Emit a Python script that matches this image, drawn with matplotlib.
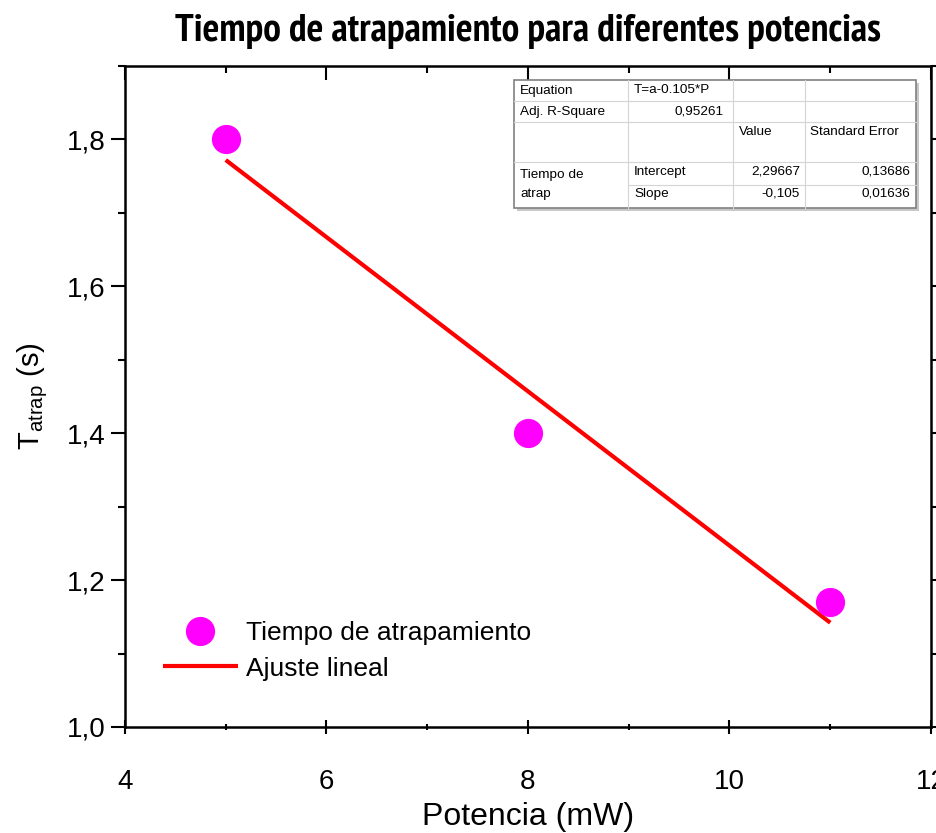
import matplotlib
matplotlib.use("Agg")
import matplotlib.pyplot as plt
from matplotlib.ticker import MultipleLocator, FuncFormatter
from matplotlib.patches import Rectangle
from matplotlib.lines import Line2D
from matplotlib import font_manager
from matplotlib.font_manager import FontProperties

# ---- data ----
potencia = [5, 8, 11]
tiempo = [1.80, 1.40, 1.17]
fit_x = [5, 11]
fit_y = [1.772, 1.142]
x_ticks = [4, 6, 8, 10, 12]
y_ticks = [1.0, 1.2, 1.4, 1.6, 1.8]

title = "Tiempo de atrapamiento para diferentes potencias"
xlabel = "Potencia (mW)"
ylabel = r"T$_{\mathregular{atrap}}$ (s)"
legend_labels = ["Tiempo de atrapamiento", "Ajuste lineal"]

tbl_row1 = ["Equation", "T=a-0.105*P"]
tbl_row2 = ["Adj. R-Square", "0,95261"]
tbl_header = ["Value", "Standard Error"]
tbl_group = ["Tiempo de", "atrap"]
tbl_params = ["Intercept", "Slope"]
tbl_values = ["2,29667", "-0,105"]
tbl_errors = ["0,13686", "0,01636"]

# ---- fonts ----
names = {f.name for f in font_manager.fontManager.ttflist}
base = "Liberation Sans" if "Liberation Sans" in names else "DejaVu Sans"
plt.rcParams["font.family"] = [base, "DejaVu Sans"]
plt.rcParams["mathtext.fontset"] = "custom"
plt.rcParams["mathtext.rm"] = base

# find a condensed bold font for the title
title_fp = None
for f in font_manager.fontManager.ttflist:
    nm = (f.name + " " + f.fname).lower()
    if ("narrow" in nm or "condensed" in nm) and f.weight in ("bold", 700):
        title_fp = FontProperties(fname=f.fname)
        if "narrow" in nm:
            break
if title_fp is None:
    title_fp = FontProperties(family=[base, "DejaVu Sans"], weight="bold")

W, H = 937, 833
fig = plt.figure(figsize=(W / 100, H / 100), dpi=100)
fig.patch.set_facecolor("white")

L, R, B, T = 125, 931, 727, 66
ax = fig.add_axes([L / W, 1 - B / H, (R - L) / W, (B - T) / H])

ax.plot(potencia, tiempo, "o", ls="none", color="#FF00FF", markersize=20,
        label=legend_labels[0], zorder=3)
ax.plot(fit_x, fit_y, "-", color="#FF0000", lw=3, label=legend_labels[1],
        solid_capstyle="butt", zorder=2)

ax.set_xlim(4, 12)
ax.set_ylim(1.0, 1.9)
ax.set_xticks(x_ticks)
ax.set_yticks(y_ticks)
ax.xaxis.set_minor_locator(MultipleLocator(1))
ax.yaxis.set_minor_locator(MultipleLocator(0.1))
ax.yaxis.set_major_formatter(FuncFormatter(lambda v, p: f"{v:.1f}".replace(".", ",")))
ax.xaxis.set_major_formatter(FuncFormatter(lambda v, p: f"{v:g}"))

for s in ax.spines.values():
    s.set_linewidth(1.8)

ax.tick_params(axis="x", which="both", direction="inout", top=True, bottom=True,
               labelsize=20, pad=25, width=1.5)
ax.tick_params(axis="y", which="both", direction="out", left=True, right=True,
               labelsize=20, pad=4, width=1.5)
ax.tick_params(which="major", length=10)
ax.tick_params(which="minor", length=5)
majors = ax.xaxis.get_major_ticks()
for t in majors + ax.xaxis.get_minor_ticks():
    t.tick2line.set_marker(3)  # TICKUP (outward on top)
    t.tick2line.set_markersize(10 if t in majors else 5)

ax.set_xlabel(xlabel, fontsize=23, labelpad=5)
ax.set_ylabel(ylabel, fontsize=21, labelpad=12)

# title, fitted close to the reference width (~742 px)
fs = 29
ttl = fig.text((L + R) / 2 / W, 1 - 41 / H, title, ha="center", va="baseline",
               fontproperties=title_fp, fontsize=fs)
fig.canvas.draw()
w = ttl.get_window_extent().width
ttl.set_fontsize(fs * 742 / w * 0.95)

leg = ax.legend(loc="lower left", bbox_to_anchor=(0.047, 0.07), frameon=False,
                fontsize=19, handlelength=2.85, handletextpad=0.3, labelspacing=0.45,
                borderpad=0, borderaxespad=0, numpoints=1)

# ---- statistics table (pixel layout) ----
def fx(px):
    return px / W

def fy(py):
    return 1 - py / H

cols = [514, 628, 733, 805, 916]
rows = [80, 101, 122, 162, 185, 208]
fig.patches.append(Rectangle((fx(cols[0] + 3), fy(rows[-1] + 3)), fx(cols[-1]) - fx(cols[0]),
                             fy(rows[0]) - fy(rows[-1]), transform=fig.transFigure,
                             facecolor="#c8c8c8", edgecolor="none", zorder=5))
fig.patches.append(Rectangle((fx(cols[0]), fy(rows[-1])), fx(cols[-1]) - fx(cols[0]),
                             fy(rows[0]) - fy(rows[-1]), transform=fig.transFigure,
                             facecolor="white", edgecolor="#808080", lw=1.2, zorder=6))
grid_c = "#d4d4d4"
for c in cols[1:-1]:
    fig.lines.append(Line2D([fx(c), fx(c)], [fy(rows[0]), fy(rows[-1])],
                            transform=fig.transFigure, color=grid_c, lw=0.8, zorder=7))
for r in rows[1:-1]:
    x0 = cols[1] if r == rows[4] else cols[0]
    fig.lines.append(Line2D([fx(x0), fx(cols[-1])], [fy(r), fy(r)],
                            transform=fig.transFigure, color=grid_c, lw=0.8, zorder=7))

tfs = 9.7
def cell(px, py, s, ha="left"):
    fig.text(fx(px), fy(py), s, ha=ha, va="center", fontsize=tfs, zorder=8)

cell(cols[0] + 6, 91, tbl_row1[0])
cell(cols[1] + 6, 90, tbl_row1[1])
cell(cols[0] + 6, 112, tbl_row2[0])
cell(cols[2] - 9, 111, tbl_row2[1], ha="right")
cell(cols[2] + 6, 132, tbl_header[0])
cell(cols[3] + 5, 132, tbl_header[1])
cell(cols[0] + 6, 175, tbl_group[0])
cell(cols[0] + 6, 194, tbl_group[1])
for j, ry in enumerate([172, 194]):
    cell(cols[1] + 6, ry, tbl_params[j])
    cell(cols[3] - 5, ry, tbl_values[j], ha="right")
    cell(cols[4] - 6, ry, tbl_errors[j], ha="right")

fig.savefig("out.png", dpi=100, facecolor="white")
